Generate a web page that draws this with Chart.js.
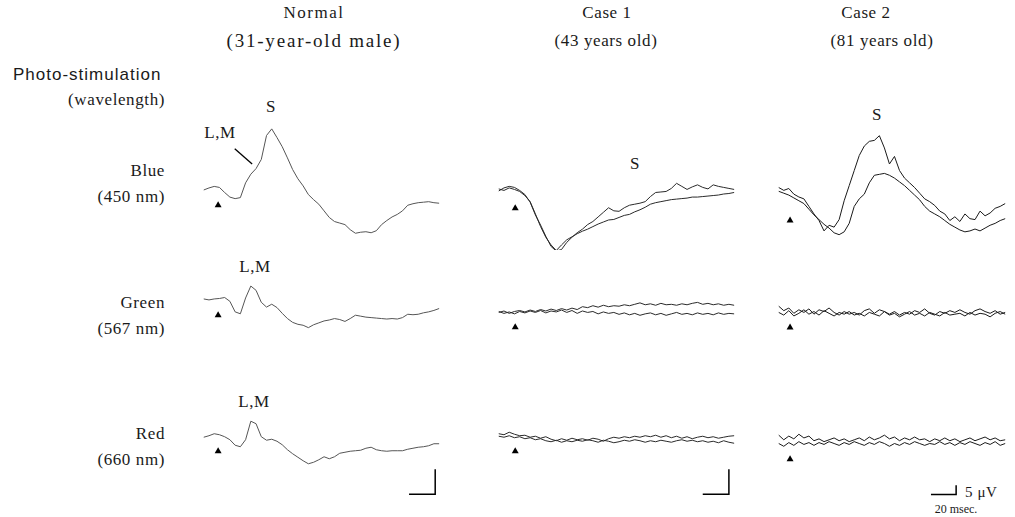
<!DOCTYPE html>
<html lang="en">
<head>
<meta charset="UTF-8">
<title>Photo-stimulation ERG traces</title>
<script src="https://cdn.jsdelivr.net/npm/chart.js"></script>
<style>
  body { margin: 0; background: #fff; }
  #page { position: relative; width: 1015px; height: 517px; overflow: hidden; font-family: "Liberation Serif", "DejaVu Serif", serif; color: #1a1a1a; }
  #page canvas { position: absolute; }
  .t { position: absolute; font-size: 17px; letter-spacing: 0.6px; white-space: nowrap; line-height: 1; }
  .c { transform: translateX(-50%); }
  .r { transform: translateX(-100%); }
  .sans { font-family: "Liberation Sans", Arial, sans-serif; font-size: 17px; letter-spacing: 1px; }
</style>
</head>
<body>
<div id="page">
  <div class="t c" style="left:314px;top:4px;letter-spacing:1.5px">Normal</div>
  <div class="t c" style="left:314px;top:31px;font-size:19px;letter-spacing:1.8px">(31-year-old male)</div>
  <div class="t c" style="left:607px;top:4px">Case 1</div>
  <div class="t c" style="left:606px;top:32px">(43 years old)</div>
  <div class="t c" style="left:866px;top:4px">Case 2</div>
  <div class="t c" style="left:882px;top:32px">(81 years old)</div>

  <div class="t sans" style="left:13px;top:66px">Photo-stimulation</div>
  <div class="t r" style="left:165px;top:91px">(wavelength)</div>
  <div class="t r" style="left:165px;top:162px">Blue</div>
  <div class="t r" style="left:165px;top:188px">(450 nm)</div>
  <div class="t r" style="left:165px;top:294px">Green</div>
  <div class="t r" style="left:165px;top:320px">(567 nm)</div>
  <div class="t r" style="left:165px;top:425px">Red</div>
  <div class="t r" style="left:165px;top:451px">(660 nm)</div>

  <div class="t c" style="left:271px;top:98px">S</div>
  <div class="t c" style="left:220px;top:124px">L,M</div>
  <div class="t c" style="left:255px;top:258px">L,M</div>
  <div class="t c" style="left:254px;top:393px">L,M</div>
  <div class="t c" style="left:635px;top:155px">S</div>
  <div class="t c" style="left:877px;top:106px">S</div>

  <div class="t" style="left:965px;top:485px;font-size:15px">5 &mu;V</div>
  <div class="t c" style="left:956px;top:503px;font-size:12px;letter-spacing:0">20 msec.</div>
</div>
<script>
    // sampling times (ms after sweep start)
    var timeMs = [0,4,8,12,16,20,24,28,32,36,40,44,48,52,56,60,64,68,72,76,80,84,88,92,96,100,
                  104,108,112,116,120,124,128,132,136,140,144,148,152,156,160,164,168,172,176,180];

    // Normal (31-year-old male), µV
    var normalBlue = [-0.5,-0.1,0.2,0.0,-1.0,-1.9,-2.2,-2.0,0.9,2.6,3.7,5.5,10.2,11.5,9.8,8.0,5.8,3.5,1.7,0.3,
                      -1.4,-2.4,-3.3,-4.6,-5.9,-6.7,-7.0,-7.3,-8.3,-9.0,-8.8,-8.7,-8.9,-8.5,-7.3,-6.5,-5.8,-5.3,
                      -4.6,-3.5,-3.2,-3.0,-2.9,-2.8,-3.0,-3.1];
    var normalGreen = [0.1,-0.1,0.1,0.2,0.4,-0.4,-2.6,-3.0,0.3,2.8,1.9,-0.6,-1.6,-1.0,-1.7,-2.9,-4.0,-4.8,-5.2,-5.4,
                       -5.9,-5.3,-4.9,-4.5,-4.3,-4.0,-4.2,-4.6,-4.0,-3.3,-3.5,-3.7,-3.8,-3.9,-4.0,-4.1,-4.0,-4.1,
                       -3.8,-3.1,-3.2,-3.1,-2.8,-2.6,-2.3,-1.9];
    var normalRed = [-0.3,0.0,0.4,0.2,-0.2,-0.8,-1.9,-2.2,-0.8,2.9,2.4,-0.2,-0.9,-0.7,-1.1,-1.8,-2.8,-3.6,-4.3,-5.0,
                     -5.6,-5.3,-4.8,-4.2,-4.6,-4.2,-3.5,-3.3,-3.1,-3.0,-2.9,-2.5,-2.3,-2.8,-3.0,-3.1,-3.0,-3.0,
                     -3.0,-2.7,-2.5,-2.3,-2.2,-2.0,-1.6,-1.6];

    // Case 1 (43 years old), two recordings each
    var case1BlueA = [-0.3,0.3,0.6,0.4,-0.2,-1.0,-2.5,-5.0,-7.0,-9.2,-11.2,-12.1,-11.8,-10.4,-9.4,-8.5,-7.8,-6.9,-6.3,-5.4,
                      -4.5,-3.6,-4.2,-4.3,-3.6,-3.1,-2.9,-2.7,-2.4,-1.4,-0.6,-0.5,-0.4,0.2,1.2,0.6,0.0,0.5,
                      0.9,0.4,0.1,0.9,0.6,0.4,0.2,0.0];
    var case1BlueB = [0.1,-0.2,0.3,0.0,-0.4,-1.2,-2.4,-4.8,-7.3,-9.4,-10.9,-12.0,-10.9,-9.9,-9.3,-8.7,-8.2,-7.8,-7.3,-6.8,
                      -6.4,-6.0,-5.9,-5.5,-5.1,-4.9,-4.4,-4.0,-3.5,-2.9,-2.6,-2.4,-2.2,-2.0,-1.9,-1.8,-1.7,-1.5,
                      -1.5,-1.4,-1.3,-1.2,-1.1,-0.9,-0.8,-0.6];
    var case1GreenA = [0.0,0.3,-0.2,0.2,0.4,0.1,0.5,0.2,0.6,0.3,0.7,0.4,0.8,0.5,0.9,0.6,1.2,1.0,1.4,1.1,
                       1.5,1.2,1.4,1.3,1.6,1.4,1.7,2.0,1.6,1.8,1.5,1.9,1.6,1.7,1.5,1.8,1.6,1.9,
                       2.1,1.7,1.9,1.6,1.8,1.5,1.7,1.5];
    var case1GreenB = [0.2,-0.2,0.1,-0.3,0.2,-0.1,0.3,0.0,0.4,-0.1,0.3,0.1,0.5,0.0,0.4,-0.2,0.3,0.0,0.2,-0.3,
                       0.1,-0.2,0.0,-0.4,-0.1,-0.5,-0.2,-0.6,-0.3,-0.1,-0.5,-0.2,-0.6,-0.3,0.0,-0.4,-0.2,-0.5,
                       -0.1,-0.4,-0.2,-0.5,-0.1,-0.4,-0.2,-0.3];
    var case1RedA = [0.2,0.0,0.5,0.1,-0.2,-0.1,-0.5,-0.3,-0.7,-0.4,-0.9,-1.2,-0.8,-1.1,-0.7,-1.0,-0.8,-1.1,-0.7,-0.9,
                     -1.3,-0.8,-0.5,-0.7,-0.4,-0.6,-0.3,-0.5,-0.2,-0.4,-0.1,-0.5,-0.2,-0.6,-0.3,-0.7,-0.4,-0.8,
                     -0.5,-0.3,-0.6,-0.4,-0.7,-0.5,-0.3,-0.2];
    var case1RedB = [-0.3,-0.5,-0.2,-0.6,-0.4,-0.8,-0.6,-1.0,-0.8,-1.2,-1.4,-1.1,-1.5,-1.2,-1.4,-1.1,-1.3,-1.0,-1.2,-1.5,
                     -1.1,-1.3,-1.6,-1.4,-1.1,-1.3,-1.0,-1.2,-1.5,-1.2,-1.4,-1.1,-1.3,-1.5,-1.2,-1.0,-1.3,-1.1,
                     -1.4,-1.2,-1.5,-1.3,-1.6,-1.2,-1.5,-1.7];

    // Case 2 (81 years old), two recordings each
    var case2BlueA = [1.0,-0.5,0.5,-2.5,-4.0,-5.0,-9.0,-13.0,-16.5,-22.0,-19.0,-20.0,-16.0,-6.0,2.0,10.0,18.0,23.0,25.5,26.0,
                      28.5,22.0,13.5,17.5,10.0,6.0,3.5,1.0,-2.0,-5.0,-6.5,-8.5,-11.5,-13.0,-16.5,-14.5,-17.0,-13.0,
                      -15.5,-16.0,-11.5,-14.0,-12.5,-10.0,-9.0,-7.5];
    var case2BlueB = [-1.0,-2.0,-3.0,-4.5,-6.0,-7.5,-10.5,-13.5,-16.0,-18.5,-20.5,-23.0,-24.0,-22.5,-18.0,-9.0,-5.0,-2.5,3.5,7.5,
                      8.0,8.5,7.5,6.0,4.0,2.0,-0.5,-3.0,-5.5,-9.0,-11.5,-13.0,-14.5,-16.5,-18.5,-20.0,-21.5,-22.5,
                      -22.0,-21.0,-22.0,-20.5,-19.0,-18.0,-16.5,-15.5];
    var case2GreenA = [3.5,1.0,2.5,-0.5,1.5,0.0,2.0,-1.0,1.5,0.5,2.5,0.0,-1.5,0.5,-1.0,0.0,-1.5,1.0,2.0,-0.5,
                       1.5,0.5,-1.0,0.5,-1.5,0.0,-1.0,1.0,0.0,2.0,-0.5,-1.5,0.5,-0.5,1.0,0.0,1.5,0.0,
                       -1.0,1.0,2.0,0.5,-0.5,1.0,-1.0,0.0];
    var case2GreenB = [0.0,-1.5,1.0,-2.0,-0.5,1.5,-1.0,0.5,-1.5,1.0,-0.5,-2.0,0.0,-1.0,0.5,-1.5,-0.5,-2.0,0.0,-1.0,
                       -2.0,0.5,-1.5,-0.5,-2.5,-1.0,0.5,-1.5,-0.5,-2.0,0.0,-1.0,-2.0,0.0,-1.5,-1.0,-0.5,-2.0,
                       0.0,-1.5,-0.5,-1.0,-2.5,-0.5,0.5,-1.0];
    var case2RedA = [3.0,0.5,2.5,1.0,3.5,1.5,2.5,0.0,1.0,-0.5,0.5,1.5,0.0,1.0,-0.5,0.5,1.5,0.0,2.0,0.5,
                     1.5,3.0,1.0,2.0,0.0,1.5,0.5,2.0,0.5,1.0,-0.5,1.0,0.0,1.5,0.0,1.0,-0.5,0.5,
                     1.5,0.0,1.0,2.0,0.5,1.5,0.0,0.5];
    var case2RedB = [-1.5,-3.0,-1.0,-2.5,-0.5,-2.0,-1.0,-2.5,-1.0,-2.0,-0.5,-1.5,-2.5,-1.0,-2.0,-0.5,-1.5,-2.5,-1.0,-2.0,
                     -0.5,-1.5,-3.0,-1.5,-2.5,-1.0,-2.0,-0.5,-1.5,-2.5,-1.5,-2.0,-0.5,-2.0,-1.0,-2.5,-1.0,-2.0,
                     -0.5,-1.5,-2.5,-1.0,-2.0,-0.5,-2.5,-1.5];

    // stimulus onset (ms) and calibration: 20 msec, 5 µV
    var stimMs = { normal: 11, case1: 12.6, case2: 9 };
    var calMs = 20, calUv = 5;

    // where each column sits on the page (px) and how many px per ms / per µV
    var cols = {
        normal: { x0: 200, msPx: 1.35, uvPx: 5.4, base: [188, 300, 435], color: '#555', calAt: 157 },
        case1:  { x0: 495, msPx: 1.35, uvPx: 5.4, base: [190, 313, 434], color: '#2a2a2a', calAt: 156 },
        case2:  { x0: 775, msPx: 1.3,  uvPx: 2.0, base: [190, 313, 440], color: '#1a1a1a', calAt: 121 }
    };
    var rowBox = [ { up: 80, h: 140 }, { up: 40, h: 70 }, { up: 45, h: 110 } ];

    function line(data, color, width) {
        return {
            type: 'line',
            data: timeMs.map(function (t, i) { return { x: t, y: data[i] }; }),
            borderColor: color, borderWidth: width, pointRadius: 0, tension: 0, clip: false
        };
    }

    function panel(colKey, row, series, stimUv, extra) {
        var c = cols[colKey];
        var y0 = c.base[row];
        var left = c.x0 - 8;
        var width = Math.min(255, 1015 - left);
        var top = y0 - rowBox[row].up;
        var height = rowBox[row].h;

        var cv = document.createElement('canvas');
        cv.width = width; cv.height = height;
        cv.style.left = left + 'px'; cv.style.top = top + 'px';
        document.getElementById('page').appendChild(cv);

        var datasets = series.map(function (s) { return line(s, c.color, 1); });
        datasets.push({
            type: 'scatter',
            data: [{ x: stimMs[colKey], y: stimUv }],
            pointStyle: 'triangle', pointRadius: 4, backgroundColor: '#000', borderColor: '#000', borderWidth: 0, clip: false
        });
        (extra || []).forEach(function (d) { datasets.push(d); });

        new Chart(cv.getContext('2d'), {
            type: 'line',
            data: { datasets: datasets },
            options: {
                responsive: false, animation: false, events: [],
                layout: { padding: 0 },
                plugins: { legend: { display: false }, tooltip: { enabled: false } },
                scales: {
                    x: { type: 'linear', display: false,
                         min: (left - c.x0) / c.msPx, max: (left + width - c.x0) / c.msPx },
                    y: { type: 'linear', display: false,
                         min: (y0 - top - height) / c.uvPx, max: (y0 - top) / c.uvPx }
                }
            }
        });
    }

    function calBar(colKey, yUv) {
        var t0 = cols[colKey].calAt;
        return {
            type: 'line',
            data: [{ x: t0, y: yUv }, { x: t0 + calMs, y: yUv }, { x: t0 + calMs, y: yUv + calUv }],
            borderColor: '#000', borderWidth: 1.5, pointRadius: 0, clip: false
        };
    }

    var pointer = {
        type: 'line',
        data: [{ x: 23.7, y: 7.6 }, { x: 37, y: 4.6 }],
        borderColor: '#000', borderWidth: 1.3, pointRadius: 0, clip: false
    };

    panel('normal', 0, [normalBlue], -3.5, [pointer]);
    panel('normal', 1, [normalGreen], -3.3);
    panel('normal', 2, [normalRed], -3.1, [calBar('normal', -11.7)]);

    panel('case1', 0, [case1BlueA, case1BlueB], -3.7);
    panel('case1', 1, [case1GreenA, case1GreenB], -3.1);
    panel('case1', 2, [case1RedA, case1RedB], -3.3, [calBar('case1', -11.9)]);

    panel('case2', 0, [case2BlueA, case2BlueB], -16.5);
    panel('case2', 1, [case2GreenA, case2GreenB], -8.5);
    panel('case2', 2, [case2RedA, case2RedB], -10, [calBar('case2', -29)]);
</script>
</body>
</html>
